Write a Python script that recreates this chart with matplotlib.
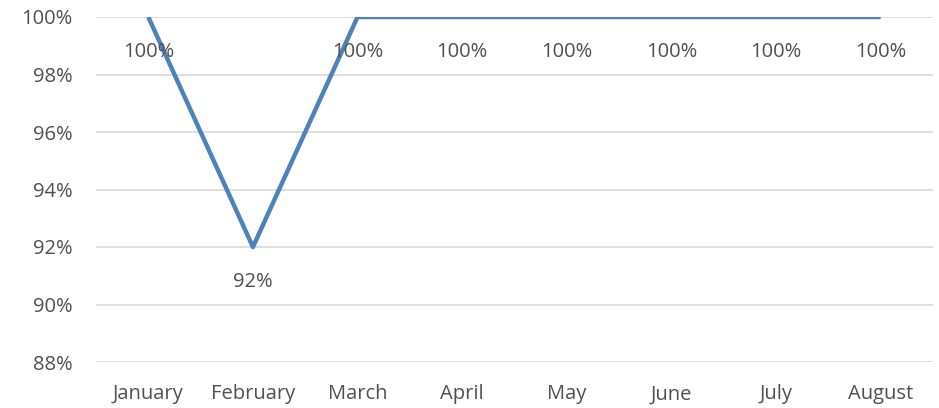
import matplotlib
matplotlib.use("Agg")
import matplotlib.pyplot as plt
from matplotlib.ticker import FuncFormatter, MultipleLocator

months = ["January", "February", "March", "April", "May", "June", "July", "August"]
values = [100, 92, 100, 100, 100, 100, 100, 100]
labels = ["100%", "92%", "100%", "100%", "100%", "100%", "100%", "100%"]

plt.rcParams['font.family'] = ['Open Sans', 'DejaVu Sans']
txt = '#505050'
fs = 14.5

fig = plt.figure(figsize=(9.39, 4.08), dpi=100)
ax = fig.add_axes([96/939, 1-362/408, (933-96)/939, (362-17)/408])
x = list(range(len(months)))
ax.plot(x, values, color='#4F81BD', lw=3.2, solid_capstyle='butt', zorder=3)
ax.set_xlim(-0.5, len(months)-0.5)
ax.set_ylim(88, 100)
ax.yaxis.set_major_locator(MultipleLocator(2))
ax.yaxis.set_major_formatter(FuncFormatter(lambda v, p: f"{v:.0f}%"))
ax.grid(axis='y', color='#D9D9D9', lw=1.2, zorder=0)
ax.set_xticks(x)
ax.set_xticklabels(months)
for s in ax.spines.values():
    s.set_visible(False)
ax.tick_params(axis='both', length=0, colors=txt, labelsize=fs)
ax.tick_params(axis='y', pad=17)
ax.tick_params(axis='x', pad=16)
for xi, v, l in zip(x, values, labels):
    ax.annotate(l, (xi, v), xytext=(0, -25), textcoords='offset points',
                ha='center', va='center', color=txt, fontsize=fs, annotation_clip=False)
fig.savefig('out.png', dpi=100)
